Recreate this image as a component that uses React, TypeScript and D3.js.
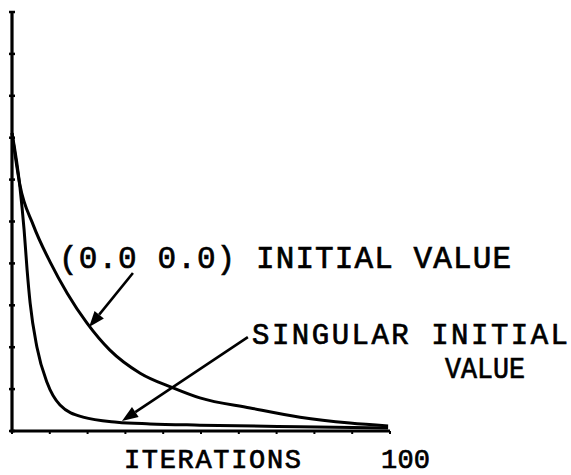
import React from "react";
import * as d3 from "d3";

// Iterations (x) and error values (y)
const iterA = [0, 2.1, 5.6, 10.1, 14.6, 19.8, 25.9, 33.9, 42.6, 49.7, 63, 76.2, 89.4, 99.5];
const valueA = [7.11, 5.87, 4.92, 4.03, 3.29, 2.58, 1.93, 1.38, 1.03, 0.79, 0.55, 0.33, 0.19, 0.12];

const iterB = [0, 2.1, 3.2, 4.0, 4.8, 6.6, 9.3, 12.7, 18.8, 27.8, 36.5, 49.7, 76, 99.5];
const valueB = [7.11, 5.82, 4.8, 3.84, 3.05, 2.0, 1.15, 0.62, 0.33, 0.21, 0.17, 0.14, 0.1, 0.07];

const yTicks = [0, 1, 2, 3, 4, 5, 6, 7, 8, 9, 10];
const xTicks = [0, 10, 20, 30, 40, 50, 60, 70, 80, 90, 100];

const labelA = "(0.0 0.0) INITIAL VALUE";
const labelB1 = "SINGULAR INITIAL";
const labelB2 = "VALUE";
const xTitle = "ITERATIONS";
const xMaxLabel = "100";

// annotation arrows in data coords: [fromX, fromY, toX, toY]
const arrowA = [32, 3.77, 20.4, 2.48];
const arrowB = [62.4, 2.24, 29.1, 0.24];

const W = 571;
const H = 475;

export default function App() {
  const x = d3.scaleLinear().domain([0, 100]).range([12, 390]);
  const y = d3.scaleLinear().domain([0, 10]).range([431, 12]);

  const line = d3
    .line<[number, number]>()
    .x((d) => x(d[0]))
    .y((d) => y(d[1]))
    .curve(d3.curveMonotoneX);

  const ptsA = iterA.map((v, i) => [v, valueA[i]] as [number, number]);
  const ptsB = iterB.map((v, i) => [v, valueB[i]] as [number, number]);

  const arrow = (a: number[]) => {
    const x1 = x(a[0]), y1 = y(a[1]), x2 = x(a[2]), y2 = y(a[3]);
    const ang = Math.atan2(y2 - y1, x2 - x1);
    const L = 16, Wd = 6;
    const bx = x2 - L * Math.cos(ang), by = y2 - L * Math.sin(ang);
    const px = -Math.sin(ang) * Wd, py = Math.cos(ang) * Wd;
    return (
      <g>
        <line x1={x1} y1={y1} x2={bx} y2={by} stroke="#000" strokeWidth={2.6} />
        <path d={`M${x2},${y2}L${bx + px},${by + py}L${bx - px},${by - py}Z`} fill="#000" />
      </g>
    );
  };

  const txt = { fontFamily: "'Liberation Mono', 'DejaVu Sans Mono', monospace", fill: "#000", stroke: "#000", strokeWidth: 0.7 } as const;

  return (
    <svg width={W} height={H} style={{ position: "absolute", left: 0, top: 0, background: "#fff" }}>
      <rect width={W} height={H} fill="#fff" />
      {/* axes */}
      <line x1={x(0)} y1={y(10)} x2={x(0)} y2={y(0) + 1.5} stroke="#000" strokeWidth={3.2} />
      <line x1={x(0) - 1.5} y1={y(0)} x2={x(100)} y2={y(0)} stroke="#000" strokeWidth={3.2} />
      {yTicks.map((t) => (
        <line key={"y" + t} x1={x(0) - 3} x2={x(0) + 3} y1={y(t)} y2={y(t)} stroke="#000" strokeWidth={2.5} />
      ))}
      {xTicks.map((t) => (
        <line key={"x" + t} x1={x(t)} x2={x(t)} y1={y(0)} y2={y(0) + 3} stroke="#000" strokeWidth={2} />
      ))}
      {/* curves */}
      <path d={line(ptsA) || ""} fill="none" stroke="#000" strokeWidth={3} strokeLinejoin="round" />
      <path d={line(ptsB) || ""} fill="none" stroke="#000" strokeWidth={3} strokeLinejoin="round" />
      {/* arrows */}
      {arrow(arrowA)}
      {arrow(arrowB)}
      {/* labels */}
      <text x={59} y={268} fontSize={31} textLength={452} lengthAdjust="spacing" style={txt}>{labelA}</text>
      <text x={252} y={344} fontSize={29} textLength={316} lengthAdjust="spacing" style={txt}>{labelB1}</text>
      <text x={445} y={378} fontSize={29} textLength={80} lengthAdjust="spacingAndGlyphs" style={txt}>{labelB2}</text>
      <text x={124} y={468} fontSize={27} textLength={177} lengthAdjust="spacing" style={txt}>{xTitle}</text>
      <text x={381} y={468} fontSize={27} textLength={49} lengthAdjust="spacing" style={txt}>{xMaxLabel}</text>
    </svg>
  );
}
